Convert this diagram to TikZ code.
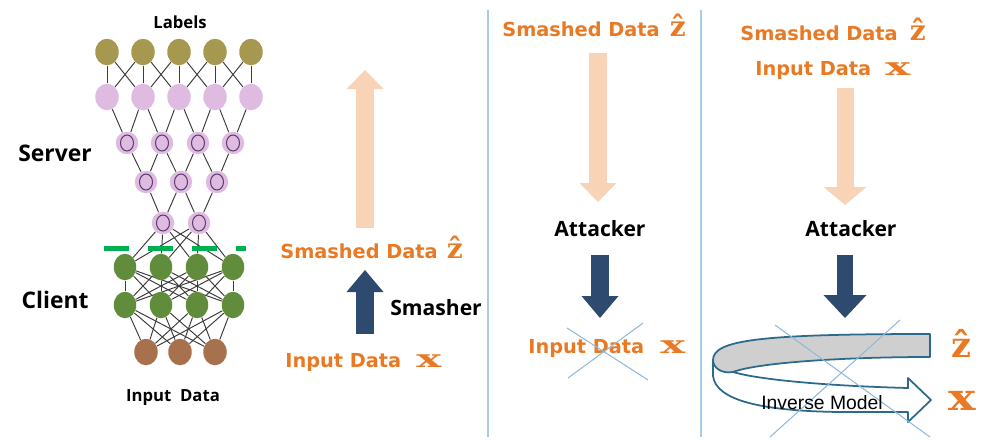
\documentclass[tikz,border=0pt]{standalone}
\usepackage{fontspec}
\usepackage{graphicx}
\usetikzlibrary{positioning,arrows.meta,shapes.geometric,backgrounds}
\newfontfamily\datafont{DejaVu Sans}
\newfontfamily\symfont{DejaVu Serif}
\newfontfamily\namefont{Open Sans}
\newfontfamily\modelfont{Liberation Sans}
\definecolor{nnolive}{HTML}{A6994F}
\definecolor{nnpink}{HTML}{DFBBE2}
\definecolor{nnpurple}{HTML}{5A3D6B}
\definecolor{nngreen}{HTML}{618C3C}
\definecolor{nnbrown}{HTML}{A8714E}
\definecolor{wiregray}{HTML}{3C3C3C}
\definecolor{cutgreen}{HTML}{00B050}
\definecolor{dataorange}{HTML}{E97A25}
\definecolor{peach}{HTML}{F9D3B6}
\definecolor{navy}{HTML}{2F4A6F}
\definecolor{sepblue}{HTML}{A8CBE6}
\definecolor{crossblue}{HTML}{90BADA}
\definecolor{ribbonblue}{HTML}{2B6A8C}
\definecolor{ribbongray}{HTML}{CFCFCF}
\newcommand{\zhat}[1][16]{{\symfont\bfseries\fontsize{#1}{#1}\selectfont ẑ}}
\newcommand{\xvec}[2][14]{{\symfont\bfseries\fontsize{#1}{#1}\selectfont\scalebox{#2}[1]{x}}}
\tikzset{
    neuron/.style={ellipse, inner sep=0pt, minimum width=4.7mm, minimum height=5.3mm},
    toplayer/.style={neuron, fill=nnolive},
    hidpink/.style={neuron, fill=nnpink},
    hidring/.style={
        circle, inner sep=0pt, minimum size=4.5mm, fill=nnpink,
        path picture={\draw[nnpurple, line width=0.6pt] (path picture bounding box.center) ellipse (1.3mm and 1.6mm);}
    },
    clientn/.style={neuron, fill=nngreen, minimum width=4.5mm},
    inputn/.style={neuron, fill=nnbrown},
    wire/.style={draw=wiregray, line width=0.55pt},
    cutline/.style={draw=cutgreen, line width=1mm, dash pattern=on 5mm off 3.8mm},
    sepline/.style={draw=sepblue, line width=0.8pt},
    crossline/.style={draw=crossblue, line width=0.6pt},
    peacharrow/.style={draw=peach, line width=3.6mm, -{Triangle[length=3.8mm, width=7.4mm, line width=0pt]}},
    navyarrow/.style={draw=navy, line width=3.6mm, -{Triangle[length=4.4mm, width=7.4mm, line width=0pt]}},
    datalabel/.style={text=dataorange, font=\datafont\bfseries\fontsize{11}{13}\selectfont, inner sep=0pt, anchor=base west},
    sidelabel/.style={font=\namefont\bfseries\fontsize{13}{15}\selectfont, inner sep=0pt},
    rolelabel/.style={font=\namefont\bfseries\fontsize{12}{14}\selectfont, inner sep=0pt},
    netlabel/.style={font=\namefont\bfseries\fontsize{9.5}{11}\selectfont, inner sep=0pt},
    ribbon/.style={draw=ribbonblue, line width=1pt, line join=round},
}
\begin{document}
\begin{tikzpicture}[x=0.2mm, y=-0.2mm]
    \useasboundingbox (0,0) rectangle (991,448);

    % split network
    \foreach \i/\x in {1/107,2/143,3/179,4/215,5/251} {
        \node[toplayer] (o\i) at (\x,52) {};
        \node[hidpink] (p\i) at (\x,97) {};
    }
    \foreach \i/\x in {1/127,2/162,3/198,4/233}
        \node[hidring] (q\i) at (\x,143) {};
    \foreach \i/\x in {1/146,2/181,3/217}
        \node[hidring] (r\i) at (\x,182) {};
    \foreach \i/\x in {1/163,2/199}
        \node[hidring] (s\i) at (\x,223) {};
    \foreach \i/\x in {1/125,2/161,3/197,4/233} {
        \node[clientn] (g\i) at (\x,267) {};
        \node[clientn] (h\i) at (\x,305) {};
    }
    \foreach \i/\x in {1/146,2/180,3/215}
        \node[inputn] (b\i) at (\x,352) {};

    \begin{scope}[on background layer]
        \foreach \a/\b in {1/1,1/2,2/1,2/2,2/3,3/2,3/3,3/4,4/3,4/4,4/5,5/4,5/5}
            \draw[wire] (o\a) -- (p\b);
        \foreach \j in {1,...,4} {
            \pgfmathtruncatemacro\k{\j+1}
            \draw[wire] (q\j) -- (p\j) (q\j) -- (p\k);
        }
        \foreach \j in {1,...,3} {
            \pgfmathtruncatemacro\k{\j+1}
            \draw[wire] (r\j) -- (q\j) (r\j) -- (q\k);
        }
        \foreach \j in {1,2} {
            \pgfmathtruncatemacro\k{\j+1}
            \draw[wire] (s\j) -- (r\j) (s\j) -- (r\k);
        }
        \foreach \a in {1,2}
            \foreach \b in {1,...,4}
                \draw[wire] (s\a) -- (g\b);
        \foreach \a in {1,...,4}
            \foreach \b in {1,...,4}
                \draw[wire] (g\a) -- (h\b);
        \foreach \a in {1,...,4}
            \foreach \b in {1,...,3}
                \draw[wire] (h\a) -- (b\b);
    \end{scope}

    \coordinate (cutl) at (104,248);
    \coordinate (cutr) at (246,248);
    \draw[cutline] (cutl) -- (cutr);

    \node[netlabel] (lbl) at (180,22) {Labels};
    \node[sidelabel] (srv) at (55,153) {Server};
    \node[sidelabel] (cli) at (55,300) {Client};
    \node[netlabel] (netin) at (173,398) {Input\ \ Data};

    % panel separators
    \coordinate (sepat) at (488,10);
    \coordinate (sepab) at (488,437);
    \coordinate (sepbt) at (701,10);
    \coordinate (sepbb) at (701,437);
    \draw[sepline] (sepat) -- (sepab);
    \draw[sepline] (sepbt) -- (sepbb);

    % training: input -> smashed
    \node[datalabel] (sd1) at (280,258) {Smashed Data\hspace{1.8mm}\zhat};
    \node[datalabel] (in1) at (285,367) {Input Data\hspace{3mm}\xvec{1.7}};
    \node[rolelabel, anchor=west] (smash) at (390,308) {Smasher};
    \coordinate (pk1a) at (365,228);
    \coordinate (pk1b) at (365,70);
    \coordinate (nv1a) at (365,334);
    \coordinate (nv1b) at (365,270);
    \draw[peacharrow] (pk1a) -- (pk1b);
    \draw[navyarrow] (nv1a) -- (nv1b);

    % attacker with smashed data only
    \node[datalabel] (sd2) at (502,37) {Smashed Data\hspace{2mm}\zhat};
    \node[rolelabel] (att2) at (600,229) {Attacker};
    \node[datalabel] (in2) at (528,353) {Input Data\hspace{3.2mm}\xvec{1.7}};
    \coordinate (pk2a) at (598,53);
    \coordinate (pk2b) at (598,202);
    \coordinate (nv2a) at (600,255);
    \coordinate (nv2b) at (600,318);
    \draw[peacharrow] (pk2a) -- (pk2b);
    \draw[navyarrow] (nv2a) -- (nv2b);
    \draw[crossline] (567,328) -- (648,380) (643,323) -- (568,378);

    % attacker with pairs
    \node[datalabel] (sd3) at (740,40) {Smashed Data\hspace{2.4mm}\zhat};
    \node[datalabel] (in3) at (755,75) {Input Data\hspace{2.8mm}\xvec{1.7}};
    \node[rolelabel] (att3) at (851,229) {Attacker};
    \coordinate (pk3a) at (845,88);
    \coordinate (pk3b) at (845,205);
    \coordinate (nv3a) at (845,255);
    \coordinate (nv3b) at (845,318);
    \draw[peacharrow, -{Triangle[length=3.6mm, width=8.6mm, line width=0pt]}, line width=3.4mm] (pk3a) -- (pk3b);
    \draw[navyarrow, -{Triangle[length=4.6mm, width=8.6mm, line width=0pt]}, line width=3.2mm] (nv3a) -- (nv3b);

    % inverse model ribbon
    \filldraw[ribbon, fill=white] (713,360) -- (713,376) .. controls (716,400) and (760,411) .. (840,412)
        -- (908,412) -- (908,422) -- (931,400) -- (908,378) -- (908,388)
        .. controls (830,386) and (760,380) .. (733,372) -- cycle;
    \filldraw[ribbon, fill=ribbongray] (930,334) -- (930,357) .. controls (850,357) and (760,362) .. (733,372)
        .. controls (722,374) and (713,368) .. (713,360)
        .. controls (713,340) and (760,334) .. (930,334) -- cycle;
    \draw[crossline] (775,325) -- (930,437) (900,320) -- (770,437);
    \node[font=\modelfont\fontsize{11}{13}\selectfont, inner sep=0pt] (invm) at (822,403) {Inverse Model};
    \node[text=dataorange, inner sep=0pt, anchor=base] (bigz) at (961,357) {\zhat[20]};
    \node[text=dataorange, inner sep=0pt, anchor=base] (bigx) at (962,410) {\xvec[21]{1.25}};
\end{tikzpicture}
\end{document}
